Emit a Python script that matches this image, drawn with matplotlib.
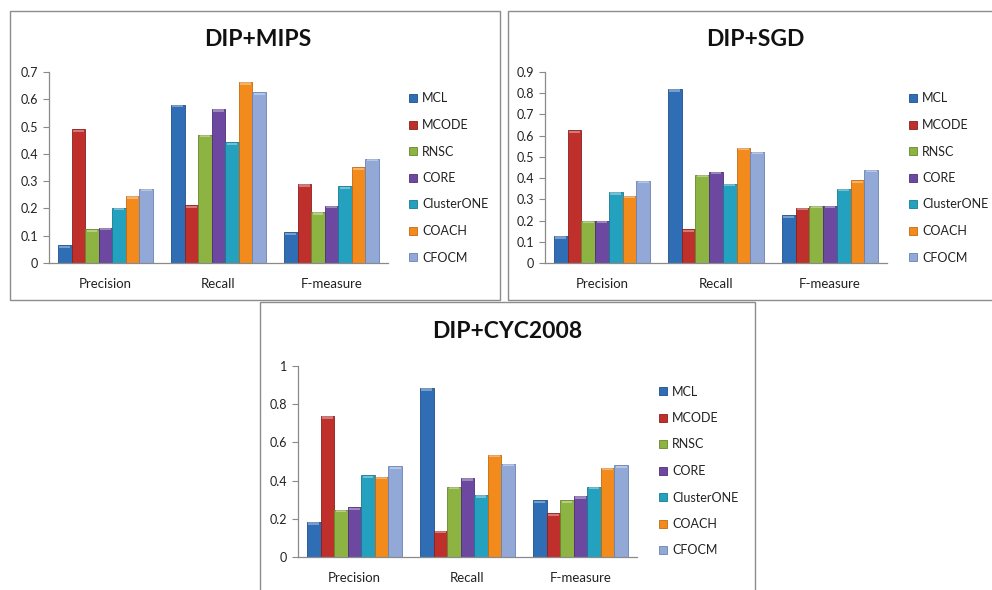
import numpy as np
import matplotlib
matplotlib.use('Agg')
import matplotlib.pyplot as plt
from matplotlib.patches import Rectangle, Patch
from matplotlib.ticker import FuncFormatter

plt.rcParams['font.family'] = ['Lato', 'DejaVu Sans']

# ---------------------------
# data
# ---------------------------
categories = ["Precision", "Recall", "F-measure"]
methods = ["MCL", "MCODE", "RNSC", "CORE", "ClusterONE", "COACH", "CFOCM"]

# rows = methods, cols = categories
mips_vals = [
    [0.065, 0.58, 0.113],
    [0.49, 0.211, 0.29],
    [0.123, 0.47, 0.187],
    [0.129, 0.565, 0.21],
    [0.203, 0.443, 0.281],
    [0.246, 0.663, 0.351],
    [0.273, 0.625, 0.382],
]
sgd_vals = [
    [0.128, 0.82, 0.225],
    [0.625, 0.158, 0.26],
    [0.20, 0.417, 0.27],
    [0.20, 0.43, 0.27],
    [0.334, 0.374, 0.35],
    [0.317, 0.544, 0.39],
    [0.388, 0.525, 0.44],
]
cyc_vals = [
    [0.183, 0.885, 0.296],
    [0.739, 0.138, 0.228],
    [0.247, 0.368, 0.296],
    [0.261, 0.413, 0.32],
    [0.427, 0.324, 0.368],
    [0.42, 0.535, 0.467],
    [0.474, 0.488, 0.481],
]

mips_ticks = [0, 0.1, 0.2, 0.3, 0.4, 0.5, 0.6, 0.7]
sgd_ticks = [0, 0.1, 0.2, 0.3, 0.4, 0.5, 0.6, 0.7, 0.8, 0.9]
cyc_ticks = [0, 0.2, 0.4, 0.6, 0.8, 1.0]

colors = ["#2f6db5", "#bf302d", "#8db443", "#6c48a0", "#25a1c0", "#f28a1c", "#92a9d8"]
edges = ["#1f4f88", "#8a1f1d", "#66862c", "#4c3175", "#187a92", "#c06a10", "#6a82b2"]

W, H = 992, 590
fig = plt.figure(figsize=(W / 100, H / 100), dpi=100)


def frac(x0, y0, x1, y1):
    return [x0 / W, 1 - y1 / H, (x1 - x0) / W, (y1 - y0) / H]


def frame(x0, y0, x1, y1):
    fig.patches.append(Rectangle((x0 / W, 1 - y1 / H), (x1 - x0) / W, (y1 - y0) / H,
                                 transform=fig.transFigure, fill=False,
                                 edgecolor="#8c8c8c", linewidth=1.0, zorder=0))


def panel(box, title, title_xy, vals, ticks, legend_xy):
    ax = fig.add_axes(frac(*box))
    x = np.arange(len(categories))
    bw = 0.12
    for i, m in enumerate(methods):
        ax.bar(x + (i - 3) * bw, vals[i], width=bw, color=colors[i],
               edgecolor=edges[i], linewidth=0.6, label=m)
        # light cap on top of each bar
        ax.bar(x + (i - 3) * bw, [0.012 * ticks[-1]] * 3, width=bw * 0.8,
               bottom=np.array(vals[i]) - 0.014 * ticks[-1], color="white",
               alpha=0.35, linewidth=0)
    ax.set_xlim(-0.5, 2.5)
    ax.set_ylim(0, ticks[-1])
    ax.set_yticks(ticks)
    ax.yaxis.set_major_formatter(FuncFormatter(lambda v, p: "%g" % v))
    ax.set_xticks(x)
    ax.set_xticklabels(categories)
    for s in ["top", "right"]:
        ax.spines[s].set_visible(False)
    for s in ["left", "bottom"]:
        ax.spines[s].set_color("#8a8a8a")
        ax.spines[s].set_linewidth(0.9)
    ax.tick_params(axis="y", length=4, width=0.8, color="#8a8a8a", labelsize=9, pad=4,
                   labelcolor="#222222")
    ax.tick_params(axis="x", length=0, labelsize=9.5, pad=11, labelcolor="#222222")
    fig.text(title_xy[0] / W, 1 - title_xy[1] / H, title, ha="center", va="center",
             fontsize=16.5, fontweight="bold", color="#111111")
    handles = [Patch(facecolor=colors[i], edgecolor=edges[i], linewidth=0.6) for i in range(7)]
    fig.legend(handles, methods, loc="center left",
               bbox_to_anchor=(legend_xy[0] / W, 1 - legend_xy[1] / H),
               bbox_transform=fig.transFigure, frameon=False, fontsize=9,
               handlelength=0.6, handleheight=0.6, handletextpad=0.45,
               labelspacing=1.16, borderpad=0, borderaxespad=0,
               labelcolor="#222222")
    return ax


frame(10, 11, 500, 300)
frame(508, 11, 1000, 300)
frame(260, 302, 755, 600)

panel((49, 72, 388, 263), "DIP+MIPS", (258, 40), mips_vals, mips_ticks, (409, 178))
panel((545, 72, 887, 263), "DIP+SGD", (755, 40), sgd_vals, sgd_ticks, (909, 178))
panel((298, 366, 637, 557), "DIP+CYC2008", (507, 332), cyc_vals, cyc_ticks, (659, 471))

fig.savefig("out.png", dpi=100)
